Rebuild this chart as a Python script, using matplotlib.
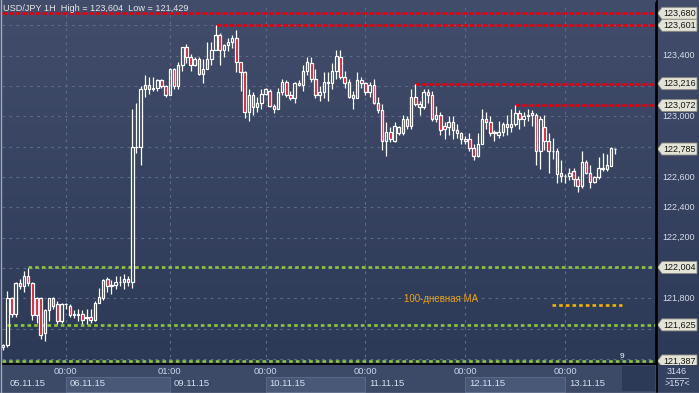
import matplotlib
matplotlib.use("Agg")
import matplotlib.pyplot as plt
import numpy as np
from matplotlib.patches import Rectangle, Polygon
from matplotlib.collections import LineCollection
from matplotlib.colors import LinearSegmentedColormap

plt.rcParams['lines.scale_dashes'] = False
plt.rcParams['font.family'] = ['Liberation Sans', 'DejaVu Sans']

# ---------------- data ----------------
opens = [121.48, 121.49, 121.80, 121.70, 121.90, 121.88, 121.95, 121.90, 121.80, 121.80,
         121.57, 121.72, 121.80, 121.76, 121.65, 121.76, 121.75, 121.70, 121.69, 121.70,
         121.67, 121.68, 121.66, 121.77, 121.80, 121.93, 121.88, 121.89, 121.91, 121.91,
         121.93, 121.91, 122.80, 122.80, 123.18, 123.21, 123.18, 123.19, 123.24, 123.20,
         123.14, 123.31, 123.20, 123.34, 123.46, 123.39, 123.34, 123.38, 123.28, 123.31,
         123.38, 123.44, 123.54, 123.44, 123.47, 123.49, 123.52, 123.36, 123.29, 123.03,
         123.14, 123.06, 123.09, 123.15, 123.17, 123.07, 123.05, 123.16, 123.23, 123.14,
         123.12, 123.21, 123.21, 123.30, 123.35, 123.25, 123.14, 123.16, 123.22, 123.22,
         123.30, 123.39, 123.26, 123.23, 123.14, 123.12, 123.24, 123.22, 123.16, 123.21,
         123.09, 123.04, 122.84, 122.90, 122.84, 122.89, 122.89, 122.98, 122.94, 123.13,
         123.06, 123.06, 123.16, 123.14, 122.98, 123.01, 122.94, 122.93, 122.96, 122.91,
         122.89, 122.84, 122.85, 122.79, 122.74, 122.82, 122.98, 122.96, 122.89, 122.88,
         122.90, 122.95, 122.93, 122.95, 123.02, 122.98, 123.00, 123.01, 123.01, 122.77,
         122.93, 122.84, 122.77, 122.77, 122.63, 122.61, 122.61, 122.64, 122.59, 122.54,
         122.70, 122.63, 122.57, 122.60, 122.66, 122.65, 122.67, 122.785]
highs = [121.50, 121.85, 121.81, 121.91, 121.93, 121.98, 122.00, 121.91, 121.81, 121.81,
         121.73, 121.80, 121.81, 121.78, 121.77, 121.77, 121.76, 121.72, 121.73, 121.72,
         121.73, 121.73, 121.78, 121.87, 121.93, 121.94, 121.92, 121.95, 121.95, 121.96,
         121.95, 123.05, 123.09, 123.20, 123.27, 123.26, 123.26, 123.25, 123.25, 123.21,
         123.32, 123.32, 123.36, 123.46, 123.48, 123.41, 123.39, 123.39, 123.38, 123.49,
         123.49, 123.604, 123.55, 123.48, 123.52, 123.54, 123.57, 123.36, 123.30, 123.18,
         123.16, 123.13, 123.18, 123.19, 123.18, 123.08, 123.19, 123.25, 123.24, 123.17,
         123.23, 123.24, 123.34, 123.39, 123.39, 123.31, 123.20, 123.29, 123.29, 123.35,
         123.44, 123.44, 123.30, 123.25, 123.17, 123.29, 123.26, 123.23, 123.23, 123.25,
         123.13, 123.08, 122.96, 122.93, 122.96, 122.94, 123.01, 123.00, 123.18, 123.216,
         123.10, 123.18, 123.18, 123.17, 123.07, 123.03, 122.96, 123.00, 123.00, 122.95,
         122.90, 122.87, 122.89, 122.82, 122.89, 123.05, 123.03, 123.00, 122.91, 122.97,
         122.96, 123.01, 123.05, 123.072, 123.04, 123.03, 123.05, 123.04, 123.02, 123.00,
         123.01, 122.89, 122.86, 122.79, 122.71, 122.62, 122.66, 122.66, 122.61, 122.77,
         122.71, 122.68, 122.61, 122.73, 122.76, 122.75, 122.80, 122.79]
lows = [121.46, 121.48, 121.68, 121.68, 121.86, 121.84, 121.88, 121.66, 121.64, 121.53,
        121.52, 121.65, 121.73, 121.63, 121.64, 121.73, 121.68, 121.67, 121.65, 121.63,
        121.63, 121.64, 121.65, 121.77, 121.79, 121.84, 121.83, 121.86, 121.88, 121.86,
        121.88, 121.87, 122.76, 122.68, 123.13, 123.15, 123.17, 123.17, 123.19, 123.13,
        123.14, 123.18, 123.18, 123.30, 123.35, 123.30, 123.33, 123.27, 123.22, 123.31,
        123.34, 123.44, 123.34, 123.39, 123.43, 123.45, 123.29, 123.17, 122.99, 122.97,
        123.01, 123.03, 123.05, 123.14, 123.06, 123.02, 123.05, 123.14, 123.13, 123.11,
        123.09, 123.20, 123.17, 123.27, 123.23, 123.12, 123.10, 123.12, 123.10, 123.18,
        123.25, 123.25, 123.19, 123.12, 123.05, 123.12, 123.19, 123.14, 123.13, 123.08,
        123.02, 122.78, 122.74, 122.83, 122.83, 122.88, 122.88, 122.92, 122.92, 123.07,
        123.01, 123.05, 123.09, 122.97, 122.96, 122.88, 122.85, 122.88, 122.85, 122.86,
        122.82, 122.82, 122.77, 122.71, 122.73, 122.82, 122.92, 122.87, 122.84, 122.86,
        122.87, 122.88, 122.90, 122.94, 122.92, 122.94, 122.97, 122.94, 122.68, 122.65,
        122.78, 122.63, 122.72, 122.56, 122.57, 122.56, 122.58, 122.54, 122.50, 122.53,
        122.62, 122.53, 122.56, 122.59, 122.64, 122.64, 122.67, 122.75]
closes = [121.49, 121.80, 121.70, 121.90, 121.88, 121.95, 121.90, 121.69, 121.69, 121.56,
          121.72, 121.80, 121.75, 121.65, 121.76, 121.76, 121.69, 121.69, 121.70, 121.66,
          121.68, 121.66, 121.77, 121.81, 121.92, 121.88, 121.89, 121.91, 121.91, 121.93,
          121.91, 122.80, 122.80, 123.18, 123.21, 123.18, 123.19, 123.24, 123.20, 123.14,
          123.31, 123.20, 123.34, 123.46, 123.39, 123.34, 123.38, 123.28, 123.31, 123.38,
          123.44, 123.54, 123.44, 123.47, 123.49, 123.52, 123.36, 123.29, 123.03, 123.14,
          123.06, 123.09, 123.15, 123.18, 123.07, 123.05, 123.16, 123.23, 123.14, 123.12,
          123.22, 123.22, 123.30, 123.36, 123.25, 123.14, 123.16, 123.23, 123.23, 123.30,
          123.40, 123.26, 123.22, 123.13, 123.12, 123.24, 123.22, 123.16, 123.21, 123.09,
          123.04, 122.84, 122.90, 122.85, 122.94, 122.93, 122.98, 122.94, 123.13, 123.08,
          123.08, 123.16, 123.14, 122.98, 123.01, 122.91, 122.92, 122.96, 122.91, 122.89,
          122.85, 122.85, 122.79, 122.74, 122.82, 122.98, 122.96, 122.89, 122.90, 122.90,
          122.95, 122.93, 122.95, 123.02, 122.98, 123.00, 123.01, 123.02, 122.77, 122.98,
          122.84, 122.77, 122.77, 122.62, 122.61, 122.61, 122.63, 122.59, 122.54, 122.70,
          122.63, 122.57, 122.60, 122.66, 122.65, 122.68, 122.79, 122.785]

red_levels = [123.680, 123.601, 123.216, 123.072]
red_starts = [None, 51, 99, 123]
green_levels = [122.004, 121.625, 121.387]
green_starts = [6, 1, None]
ma_label = "100-дневная МА"

y_ticks = [123.4, 123.0, 122.6, 122.4, 122.2, 121.8]
y_grid = [123.6, 123.4, 123.2, 123.0, 122.8, 122.6, 122.4, 122.2, 122.0, 121.8, 121.6, 121.4]
tag_levels = [123.680, 123.601, 123.216, 123.072, 122.785, 122.004, 121.625, 121.387]

grid_bars = [15, 40, 63, 87, 111, 135]
time_labels = ["00:00", "01:00", "00:00", "00:00", "00:00", "00:00"]
date_labels = ["05.11.15", "06.11.15", "09.11.15", "10.11.15", "11.11.15", "12.11.15", "13.11.15"]
title = "USD/JPY 1H  High = 123,604  Low = 121,429"

# ---------------- figure ----------------
W, H = 699, 393
fig = plt.figure(figsize=(W / 100, H / 100), dpi=100)

def fx(px):
    return px / W

def fy(py):
    return 1 - py / H

# background gradient
bg = fig.add_axes([0, 0, 1, 1])
bg.set_axis_off()
grad = np.linspace(0, 1, 256).reshape(-1, 1)
cmap = LinearSegmentedColormap.from_list("g", ["#414d6b", "#2b3855"])
bg.imshow(grad, aspect='auto', cmap=cmap, extent=[0, 1, 0, 1], origin='upper')
bg.set_xlim(0, 1)
bg.set_ylim(0, 1)

L_PX, R_PX, T_PX, B_PX = 2, 656, 3, 364
ax = fig.add_axes([fx(L_PX), fy(B_PX), fx(R_PX) - fx(L_PX), fy(T_PX) - fy(B_PX)])
ax.set_facecolor('none')
ax.set_xlim(-0.3, 156.8)
ax.set_ylim(121.367, 123.748)
for s in ['top', 'left']:
    ax.spines[s].set_visible(False)
ax.spines['right'].set_color('black')
ax.spines['bottom'].set_color('black')
ax.spines['right'].set_linewidth(1.2)
ax.spines['bottom'].set_linewidth(1.2)
ax.set_xticks([])
ax.set_yticks([])

gcol = '#5a6a8a'
for g in y_grid:
    ax.axhline(g, color=gcol, lw=0.8, ls=(0, (2, 3)), zorder=1)
for b in grid_bars:
    ax.axvline(b, color=gcol, lw=0.8, ls=(0, (2, 3)), zorder=1)

xmax = ax.get_xlim()[1]
xmin = ax.get_xlim()[0]
for lev, st in zip(red_levels, red_starts):
    x0 = xmin if st is None else st
    ax.plot([x0, xmax], [lev, lev], color='#e8000f', lw=1.9, ls=(0, (3.2, 1.6)), zorder=2)
for lev, st in zip(green_levels, green_starts):
    x0 = xmin if st is None else st
    ax.plot([x0, xmax], [lev, lev], color='#8cc63c', lw=1.9, ls=(0, (2.6, 2.2)), zorder=2)

# candles
wk = []
bw = 0.6
for i, (o, h, l, c) in enumerate(zip(opens, highs, lows, closes)):
    top = max(o, c)
    bot = min(o, c)
    if h > top:
        wk.append([(i, top), (i, h)])
    if l < bot:
        wk.append([(i, l), (i, bot)])
    fc = '#e5102a' if c < o else 'none'
    ax.add_patch(Rectangle((i - bw / 2, bot), bw, top - bot, facecolor=fc,
                           edgecolor='white', lw=0.9, zorder=4))
ax.add_collection(LineCollection(wk, colors='white', linewidths=0.9, zorder=3))

# MA legend sample
fig.text(fx(404), fy(299), ma_label, color='#e8a317', fontsize=7, va='center', ha='left')
fig.add_artist(plt.Line2D([fx(552), fx(622)], [fy(305), fy(305)], color='#f0b400', lw=1.9,
                          ls=(0, (2.6, 2.2))))
fig.text(fx(620), fy(357), "9", color='white', fontsize=6, va='center', ha='left')

# title
fig.text(fx(3), fy(8.5), title, color='#e6e6e6', fontsize=6.6, va='center', ha='left')

# right axis tick labels
for t in y_ticks:
    ypix = ax.transData.transform((0, t))[1]
    fig.text(fx(662), ypix / H, f"{t:.3f}".replace(".", ","),
             color='#d6dcea', fontsize=6.5, va='center', ha='left')

# tags
for lev in tag_levels:
    yp = ax.transData.transform((0, lev))[1]
    hh = 6
    pts = [(657.5, yp), (662, yp + hh), (697, yp + hh), (697, yp - hh), (662, yp - hh)]
    pts = [(px / W, py / H) for px, py in pts]
    fig.add_artist(Polygon(pts, closed=True, facecolor='#e4e4d6', edgecolor='#8a8a80',
                           lw=0.6, transform=fig.transFigure))
    txt = f"{lev:.3f}".replace(".", ",")
    fig.text(fx(663), yp / H, txt, color='#151515', fontsize=6.5, va='center', ha='left')

# bottom strip
fig.add_artist(Rectangle((0, 0), fx(656), fy(365), facecolor='#3c4967', edgecolor='none',
                         transform=fig.transFigure))
fig.add_artist(Rectangle((fx(656), 0), 1 - fx(656), fy(365), facecolor='#34415f',
                         edgecolor='none', transform=fig.transFigure))
box_bars = [(15, 40), (63, 87), (111, 135)]
for a, b in box_bars:
    xa = ax.transData.transform((a, 0))[0]
    xb = ax.transData.transform((b, 0))[0]
    fig.add_artist(Rectangle((xa / W, fy(392)), (xb - xa) / W, fy(377) - fy(392),
                             facecolor='#4a5878', edgecolor='#5f6d8d', lw=0.6,
                             transform=fig.transFigure))
fig.add_artist(Rectangle((fx(622), fy(391)), fx(33), fy(366) - fy(391), facecolor='#2c3a58',
                         edgecolor='none', transform=fig.transFigure))
fig.add_artist(plt.Line2D([fx(656.5), fx(656.5)], [0, 1], color='black', lw=1.2))
fig.add_artist(plt.Line2D([0, 1], [fy(392.5), fy(392.5)], color='#a0a8b8', lw=1))
fig.add_artist(plt.Line2D([fx(0.5), fx(0.5)], [0, 1], color='#a0a8b8', lw=1))

for b, lab in zip(grid_bars, time_labels):
    xp = ax.transData.transform((b, 0))[0]
    fig.text(xp / W, fy(372), lab, color='#c8d6ee', fontsize=6.8, va='center', ha='center')
date_x = [10] + [ax.transData.transform((b, 0))[0] + 4 for b in grid_bars]
for xp, lab in zip(date_x, date_labels):
    fig.text(xp / W, fy(384), lab, color='#d4deee', fontsize=6.8, va='center', ha='left')

fig.text(fx(677), fy(372), "3146", color='#d4deee', fontsize=6.5, va='center', ha='center')
fig.add_artist(plt.Line2D([fx(666), fx(688)], [fy(378), fy(378)], color='#c0c8d8', lw=0.6))
fig.text(fx(677), fy(384), ">157<", color='#d4deee', fontsize=6.5, va='center', ha='center')

fig.savefig("out.png", dpi=100)
